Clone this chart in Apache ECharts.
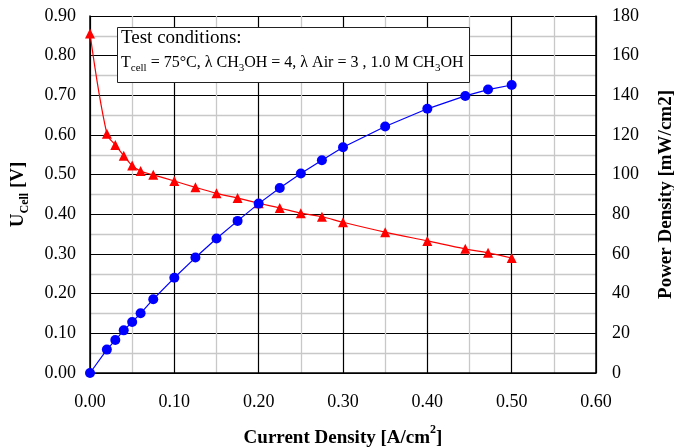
<!DOCTYPE html>
<html>
<head>
<meta charset="utf-8">
<script src="https://cdn.jsdelivr.net/npm/echarts@6/dist/echarts.min.js"></script>
<style>
html,body{margin:0;padding:0;background:#fff;}
#chart{width:674px;height:448px;}
</style>
</head>
<body>
<div id="chart"></div>
<script>
// Current density [A/cm2]
const currentDensity = [0, 0.02, 0.03, 0.04, 0.05, 0.06, 0.075, 0.1, 0.125, 0.15, 0.175, 0.2, 0.225, 0.25, 0.275, 0.3, 0.35, 0.4, 0.445, 0.472, 0.5];
// Cell voltage [V]
const cellVoltage = [0.856, 0.603, 0.575, 0.548, 0.523, 0.509, 0.4995, 0.484, 0.468, 0.453, 0.441, 0.428, 0.416, 0.403, 0.394, 0.380, 0.355, 0.333, 0.313, 0.303, 0.290];
// Power density [mW/cm2]
const powerDensity = [0, 11.8, 16.6, 21.5, 25.7, 30.1, 37.2, 48.0, 58.2, 67.8, 76.7, 85.4, 93.3, 100.6, 107.3, 113.8, 124.3, 133.2, 139.7, 142.9, 145.2];

const xTicks = [0, 0.1, 0.2, 0.3, 0.4, 0.5, 0.6];
const leftTicks = [0, 0.1, 0.2, 0.3, 0.4, 0.5, 0.6, 0.7, 0.8, 0.9];
const rightTicks = [0, 20, 40, 60, 80, 100, 120, 140, 160, 180];

const FONT = '"Liberation Serif", "DejaVu Serif", serif';

const chart = echarts.init(document.getElementById('chart'));
const voltPairs = currentDensity.map((x, i) => [x, cellVoltage[i]]);
const powerPairs = currentDensity.map((x, i) => [x, powerDensity[i]]);

chart.setOption({
  animation: false,
  backgroundColor: '#fff',
  textStyle: { fontFamily: FONT },
  title: {
    left: 117, top: 26,
    padding: [1, 6, 9, 4],
    borderColor: '#222', borderWidth: 1,
    backgroundColor: '#fff',
    text: '{h|Test conditions:}\n{t|T}{s|cell}{t| = 75°C, λ CH}{s|3}{t|OH = 4, λ Air = 3 , 1.0 M CH}{s|3}{t|OH}',
    textStyle: {
      fontFamily: FONT, color: '#000', fontWeight: 'normal',
      rich: {
        h: { fontFamily: FONT, fontSize: 19, color: '#000', lineHeight: 22 },
        t: { fontFamily: FONT, fontSize: 16, color: '#000', lineHeight: 22, verticalAlign: 'bottom' },
        s: { fontFamily: FONT, fontSize: 11, color: '#000', lineHeight: 22, verticalAlign: 'bottom', padding: [0, 0, -3, 0] }
      }
    }
  },
  grid: { left: 90, right: 78, top: 16, bottom: 75, containLabel: false, outerBoundsMode: 'none' },
  xAxis: {
    type: 'value', min: 0, max: 0.6, interval: 0.1,
    name: '{b|Current Density [A/cm}{sup|2}{b|]}',
    nameLocation: 'middle', nameGap: 51,
    nameTextStyle: {
      rich: {
        b: { fontFamily: FONT, fontSize: 19, fontWeight: 'bold', color: '#000', lineHeight: 24, verticalAlign: 'bottom' },
        sup: { fontFamily: FONT, fontSize: 12, fontWeight: 'bold', color: '#000', lineHeight: 24, verticalAlign: 'top' }
      }
    },
    axisLine: { lineStyle: { color: '#000', width: 1.5 } },
    axisTick: { show: false },
    axisLabel: { fontFamily: FONT, fontSize: 18, color: '#000', margin: 20, formatter: v => v.toFixed(2) },
    splitLine: { show: true, lineStyle: { color: '#000', width: 1.2 } },
    minorTick: { show: false, splitNumber: 2 },
    minorSplitLine: { show: true, lineStyle: { color: '#c8c8c8', width: 1.3 } }
  },
  yAxis: [
    {
      type: 'value', min: 0, max: 0.9, interval: 0.1, position: 'left',
      name: '{b|U}{s|Cell}{b| [V]}',
      nameLocation: 'middle', nameRotate: 90, nameGap: 62,
      nameTextStyle: {
        rich: {
          b: { fontFamily: FONT, fontSize: 19, fontWeight: 'bold', color: '#000', lineHeight: 24, verticalAlign: 'bottom' },
          s: { fontFamily: FONT, fontSize: 12, fontWeight: 'bold', color: '#000', lineHeight: 24, verticalAlign: 'bottom', padding: [0, 0, -3, 0] }
        }
      },
      axisLine: { show: true, lineStyle: { color: '#000', width: 1.5 } },
      axisTick: { show: false },
      axisLabel: { fontFamily: FONT, fontSize: 18, color: '#000', margin: 14, formatter: v => v.toFixed(2) },
      splitLine: { show: true, lineStyle: { color: '#000', width: 1.2 } },
      minorTick: { show: false, splitNumber: 2 },
      minorSplitLine: { show: true, lineStyle: { color: '#c8c8c8', width: 1.3 } }
    },
    {
      type: 'value', min: 0, max: 180, interval: 20, position: 'right',
      name: 'Power Density [mW/cm2]',
      nameLocation: 'middle', nameRotate: 90, nameGap: 61,
      nameTextStyle: { fontFamily: FONT, fontSize: 19, fontWeight: 'bold', color: '#000' },
      axisLine: { show: true, lineStyle: { color: '#000', width: 1.5 } },
      axisTick: { show: false },
      axisLabel: { fontFamily: FONT, fontSize: 18, color: '#000', margin: 16 },
      splitLine: { show: false }
    }
  ],
  series: [
    {
      type: 'line', yAxisIndex: 0, data: voltPairs,
      smooth: 0.35,
      symbol: 'triangle', symbolSize: 10,
      lineStyle: { color: '#ff0000', width: 1.2 },
      itemStyle: { color: '#ff0000' },
      z: 3
    },
    {
      type: 'line', yAxisIndex: 1, data: powerPairs,
      smooth: false,
      symbol: 'circle', symbolSize: 10,
      lineStyle: { color: '#0000ff', width: 1.2 },
      itemStyle: { color: '#0000ff' },
      z: 4
    }
  ]
});
</script>
</body>
</html>
